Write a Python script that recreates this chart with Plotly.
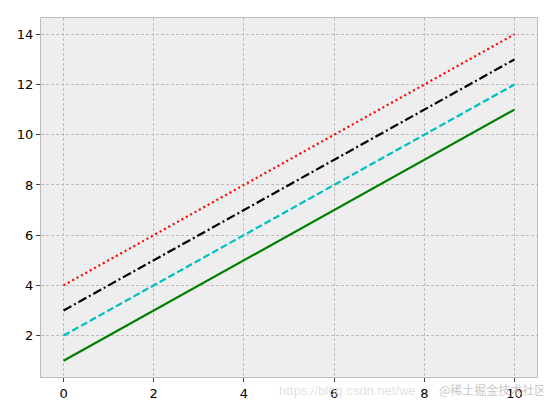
import plotly.graph_objects as go

x = [0, 1, 2, 3, 4, 5, 6, 7, 8, 9, 10]
y_solid = [1, 2, 3, 4, 5, 6, 7, 8, 9, 10, 11]
y_dashed = [2, 3, 4, 5, 6, 7, 8, 9, 10, 11, 12]
y_dashdot = [3, 4, 5, 6, 7, 8, 9, 10, 11, 12, 13]
y_dotted = [4, 5, 6, 7, 8, 9, 10, 11, 12, 13, 14]

series = [
    (y_solid, "green", "solid"),
    (y_dashed, "#00bfbf", "7px,3px"),
    (y_dashdot, "black", "9px,3px,2px,3px"),
    (y_dotted, "red", "2px,3px"),
]

fig = go.Figure()
for ys, color, dash in series:
    fig.add_trace(go.Scatter(x=x, y=ys, mode="lines",
                             line=dict(color=color, width=2.2, dash=dash),
                             showlegend=False))

axis_common = dict(
    showgrid=True, gridcolor="#bdbdbd", gridwidth=0.6, griddash="3px,2px",
    zeroline=False, showline=True, linecolor="#bcbcbc", linewidth=1, mirror=True,
    ticks="outside", ticklen=4, tickcolor="#444444", tickwidth=1,
    tickfont=dict(family="DejaVu Sans", size=13, color="black"),
)
fig.update_xaxes(range=[-0.5, 10.5], tickvals=[0, 2, 4, 6, 8, 10], **axis_common)
fig.update_yaxes(range=[0.35, 14.65], tickvals=[2, 4, 6, 8, 10, 12, 14], **axis_common)

fig.add_annotation(text="https://blog.csdn.net/we", xref="paper", yref="paper",
                   x=0.475, y=-0.01, xanchor="left", yanchor="top", showarrow=False,
                   font=dict(family="Liberation Sans", size=13, color="rgba(220,220,220,0.85)"))
fig.add_annotation(text="@稀土掘金技术社区", xref="paper", yref="paper",
                   x=1.022, y=-0.005, xanchor="right", yanchor="top", showarrow=False,
                   font=dict(family="Noto Sans CJK SC", size=12, color="rgba(195,195,195,0.95)"))

fig.update_layout(
    width=551, height=402,
    margin=dict(l=33, r=22, t=9, b=24),
    plot_bgcolor="#eeeeee", paper_bgcolor="white",
)
fig.write_html("out.html")
